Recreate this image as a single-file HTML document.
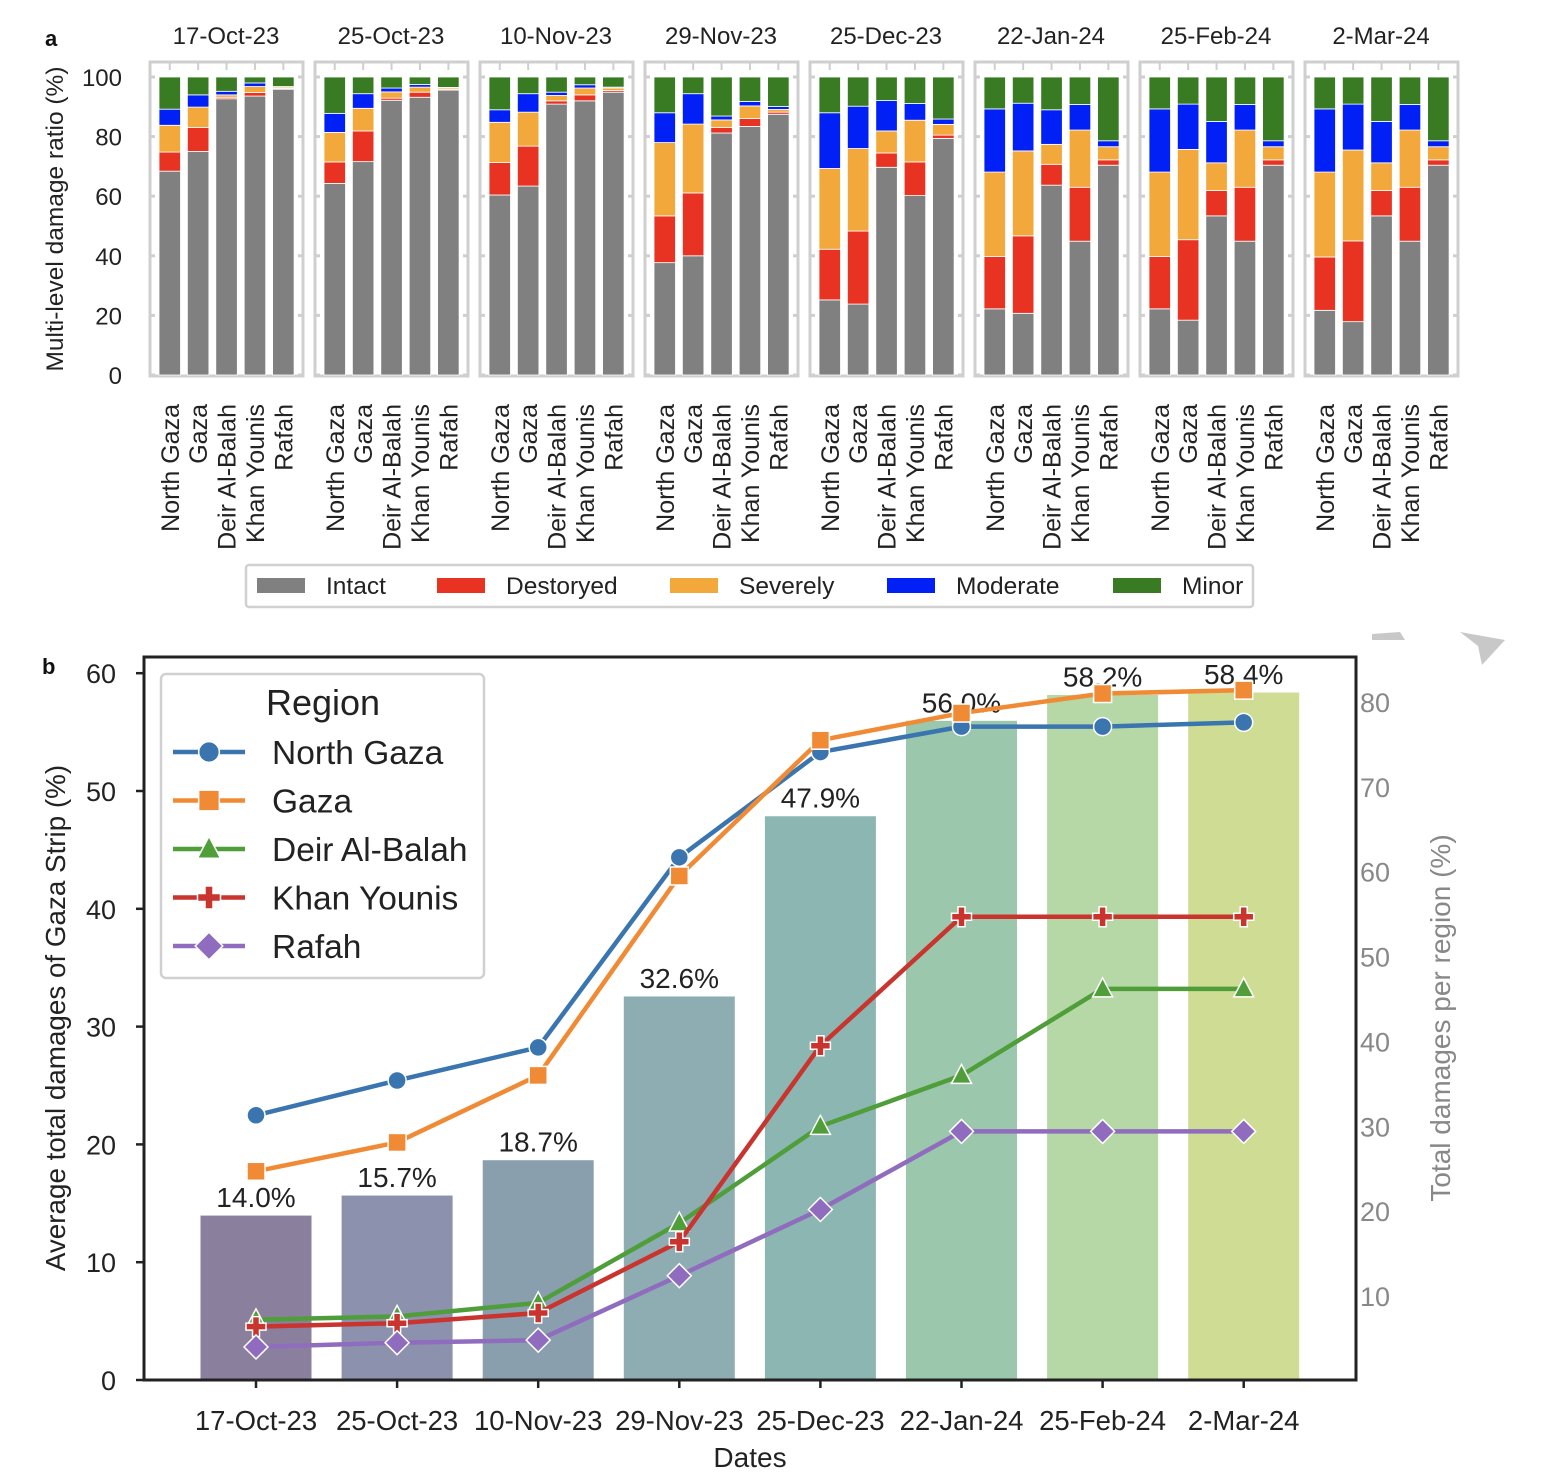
<!DOCTYPE html>
<html><head><meta charset="utf-8"><style>
body{margin:0;background:#fff;}
svg{display:block;font-family:"Liberation Sans",Arial,sans-serif;}
</style></head><body>
<svg id="c" width="1566" height="1476" viewBox="0 0 1566 1476"></svg>
<script>
// ---------- Panel a data ----------
const dates = ["17-Oct-23","25-Oct-23","10-Nov-23","29-Nov-23","25-Dec-23","22-Jan-24","25-Feb-24","2-Mar-24"];
const regions = ["North Gaza","Gaza","Deir Al-Balah","Khan Younis","Rafah"];
const intact = [
 [68.4,75.0,92.7,93.6,95.9],[64.3,71.6,92.2,93.2,95.6],[60.4,63.4,90.9,92.0,94.9],[37.7,40.0,81.2,83.4,87.5],
 [25.2,23.8,69.7,60.2,79.4],[22.2,20.7,63.7,44.9,70.4],[22.2,18.4,53.4,44.9,70.4],[21.7,17.9,53.4,44.9,70.4]];
const destroyed = [
 [6.4,8.1,0.5,1.2,0.3],[7.2,10.3,0.7,1.7,0.2],[10.9,13.4,1.1,2.0,0.6],[15.7,21.1,1.9,2.7,0.7],
 [17.0,24.5,4.8,11.3,1.1],[17.6,26.0,7.0,18.1,1.8],[17.6,27.0,8.5,18.1,1.8],[17.9,27.1,8.5,18.1,1.8]];
const severely = [
 [9.0,6.8,0.8,2.0,0.4],[9.9,7.6,2.1,1.7,0.5],[13.5,11.4,1.8,2.3,0.8],[24.6,23.1,2.5,4.2,0.9],
 [27.1,27.7,7.4,14.0,3.6],[28.3,28.5,6.7,19.2,4.4],[28.3,30.3,9.3,19.2,4.4],[28.5,30.5,9.3,19.2,4.4]];
const moderate = [
 [5.4,4.1,1.2,1.2,0.2],[6.4,4.9,1.3,0.9,0.2],[4.2,6.2,1.1,1.1,0.3],[10.0,10.2,1.3,1.5,1.0],
 [18.7,14.2,10.2,5.6,1.8],[21.2,16.0,11.6,8.6,2.0],[21.2,15.2,13.9,8.6,2.0],[21.2,15.4,13.9,8.6,2.0]];
const minor = [
 [10.8,6.0,4.8,2.0,3.2],[12.2,5.6,3.7,2.5,3.5],[11.0,5.6,5.1,2.6,3.4],[12.0,5.6,13.1,8.2,9.9],
 [12.0,9.8,7.9,8.9,14.1],[10.7,8.8,11.0,9.2,21.4],[10.7,9.1,14.9,9.2,21.4],[10.7,9.1,14.9,9.2,21.4]];
const aTicks = [0,20,40,60,80,100];
const catNames = ["Intact","Destoryed","Severely","Moderate","Minor"];
// ---------- Panel b data ----------
const totalPct = [14.0,15.7,18.7,32.6,47.9,56.0,58.2,58.4];
const ngLine = [31.3,35.4,39.3,61.7,74.1,77.1,77.1,77.6];
const gazaLine = [24.7,28.1,36.0,59.5,75.5,78.7,81.0,81.4];
const deirLine = [7.2,7.6,9.2,18.6,30.0,36.0,46.2,46.2];
const khanLine = [6.4,6.8,8.0,16.4,39.5,54.7,54.7,54.7];
const rafahLine = [4.0,4.5,4.8,12.4,20.2,29.4,29.4,29.4];
const leftTicks = [0,10,20,30,40,50,60];
const rightTicks = [10,20,30,40,50,60,70,80];

const NS="http://www.w3.org/2000/svg";
const svg=document.getElementById('c');
function mk(tag,attrs,parent){const e=document.createElementNS(NS,tag);for(const k in attrs)e.setAttribute(k,attrs[k]);(parent||svg).appendChild(e);return e;}
function txt(s,attrs,parent){const e=mk('text',attrs,parent);e.textContent=s;return e;}

// ----- panel a -----
const catColors=["#808080","#e83323","#f2a83b","#0020f5","#387b22"];
const ya=v=>375-v*2.98;
const series=[intact,destroyed,severely,moderate,minor];
let t=txt('a',{x:45,y:46,'font-size':22,'font-weight':'bold',fill:'#111'});


t=txt('Multi-level damage ratio (%)',{x:0,y:0,'font-size':24.5,fill:'#222','text-anchor':'middle',transform:'translate(63,219) rotate(-90)'});


aTicks.forEach(v=>{const e=txt(String(v),{x:122,y:ya(v)+9,'font-size':24,fill:'#222','text-anchor':'end'});

});
dates.forEach((d,p)=>{
  const x0=150+p*165;
  const g=mk('g',{});
  
  
  const tt=txt(d,{x:x0+76,y:44,'font-size':24,fill:'#222','text-anchor':'middle'},g);
  
  
  const fr=mk('rect',{x:x0,y:62,width:153,height:314,fill:'#fff',stroke:'#cfcfcf','stroke-width':3},g);
  
  
  aTicks.forEach(v=>{mk('line',{x1:x0,x2:x0+5,y1:ya(v),y2:ya(v),stroke:'#cfcfcf','stroke-width':3},g);mk('line',{x1:x0+148,x2:x0+153,y1:ya(v),y2:ya(v),stroke:'#cfcfcf','stroke-width':3},g);});
  regions.forEach((r,i)=>{
    const bx=x0+9+i*28.4;
    const cx=bx+10.75;
    mk('line',{x1:cx,x2:cx,y1:62,y2:70,stroke:'#cfcfcf','stroke-width':2},g);
    let base=0;
    series.forEach((s,k)=>{
      const v=s[p][i];
      const rc=mk('rect',{x:bx,y:ya(base+v),width:21.5,height:Math.max(0,v*2.98),fill:catColors[k],stroke:'#fff','stroke-width':0.8},g);
      
      
      base+=v;
    });
    const lb=txt(r,{x:0,y:0,'font-size':25,fill:'#222','text-anchor':'end',transform:`translate(${cx+9},404) rotate(-90)`},g);
    
    
  });
});
// legend a
const lgA=mk('g',{});


mk('rect',{x:246,y:565,width:1007,height:42,rx:3,fill:'#fff',stroke:'#d0d0d0','stroke-width':2.5},lgA);
const lgx=[257,437,670,887,1113];
catNames.forEach((n,k)=>{
  const e=mk('g',{},lgA);
  
  
  mk('rect',{x:lgx[k],y:578,width:48,height:15,fill:catColors[k]},e);
  txt(n,{x:lgx[k]+69,y:594,'font-size':24.5,fill:'#222'},e);
});

// ----- panel b -----
const yl=v=>1380-v*11.78;
const yr=v=>1380.9-v*8.486;
const xb=i=>256+i*141.1;
t=txt('b',{x:42,y:674,'font-size':22,'font-weight':'bold',fill:'#111'});


const barCols=["#8b7f9e","#8c92ae","#8a9fae","#8dadb2","#8bb6b1","#9bc7ad","#b5d8a6","#cfdc93"];
totalPct.forEach((v,i)=>{
  const r=mk('rect',{x:xb(i)-56,y:yl(v),width:112,height:v*11.78,fill:barCols[i],stroke:'#fff','stroke-width':1});
  
  
  const l=txt(v.toFixed(1)+'%',{x:xb(i),y:yl(v)-8,'font-size':28,fill:'#222','text-anchor':'middle'});
  
  
});
const lines=[["North Gaza",ngLine,"#3a75b0","circle"],["Gaza",gazaLine,"#f08a34","square"],["Deir Al-Balah",deirLine,"#4f9e3a","tri"],["Khan Younis",khanLine,"#c9342e","plus"],["Rafah",rafahLine,"#8f6cbd","diamond"]];
function marker(type,x,y,col,parent,s){
  s=s||1;
  if(type==='circle')return mk('circle',{cx:x,cy:y,r:9*s,fill:col,stroke:'#fff','stroke-width':1.5},parent);
  if(type==='square')return mk('rect',{x:x-9*s,y:y-9*s,width:18*s,height:18*s,fill:col,stroke:'#fff','stroke-width':1.5},parent);
  if(type==='tri')return mk('polygon',{points:`${x},${y-11*s} ${x+10*s},${y+8*s} ${x-10*s},${y+8*s}`,fill:col,stroke:'#fff','stroke-width':1.5},parent);
  if(type==='plus')return mk('path',{d:`M${x-3.5*s},${y-10*s}h${7*s}v${6.5*s}h${6.5*s}v${7*s}h${-6.5*s}v${6.5*s}h${-7*s}v${-6.5*s}h${-6.5*s}v${-7*s}h${6.5*s}z`,fill:col,stroke:'#fff','stroke-width':1.5},parent);
  return mk('polygon',{points:`${x},${y-12*s} ${x+12*s},${y} ${x},${y+12*s} ${x-12*s},${y}`,fill:col,stroke:'#fff','stroke-width':1.5},parent);
}
lines.forEach(([n,vals,col,m])=>{
  const g=mk('g',{});
  
  
  mk('polyline',{points:vals.map((v,i)=>xb(i)+','+yr(v)).join(' '),fill:'none',stroke:col,'stroke-width':4.5,'stroke-linejoin':'round'},g);
  vals.forEach((v,i)=>{const p=marker(m,xb(i),yr(v),col,g);
    
    });
});
// frame
const fb=mk('rect',{x:144,y:657,width:1212,height:723,fill:'none',stroke:'#222','stroke-width':3});


leftTicks.forEach(v=>{mk('line',{x1:136,x2:144,y1:yl(v),y2:yl(v),stroke:'#222','stroke-width':2.5});
  const e=txt(String(v),{x:116,y:yl(v)+10,'font-size':27,fill:'#222','text-anchor':'end'});
  
  });
rightTicks.forEach(v=>{
  const e=txt(String(v),{x:1360,y:yr(v)+10,'font-size':27,fill:'#888'});
  
  });
dates.forEach((d,i)=>{mk('line',{x1:xb(i),x2:xb(i),y1:1380,y2:1388,stroke:'#222','stroke-width':2.5});
  const e=txt(d,{x:xb(i),y:1430,'font-size':27.5,fill:'#222','text-anchor':'middle'});
  
  });
t=txt('Dates',{x:750,y:1467,'font-size':28,fill:'#222','text-anchor':'middle'});


t=txt('Average total damages of Gaza Strip (%)',{x:0,y:0,'font-size':27.8,fill:'#222','text-anchor':'middle',transform:'translate(65,1018) rotate(-90)'});


t=txt('Total damages per region (%)',{x:0,y:0,'font-size':28,fill:'#888','text-anchor':'middle',transform:'translate(1450,1018) rotate(-90)'});


// legend b
const lgB=mk('g',{});


mk('rect',{x:161,y:674,width:323,height:304,rx:5,fill:'#fff',stroke:'#d0d0d0','stroke-width':2.5},lgB);
txt('Region',{x:323,y:715,'font-size':36,fill:'#222','text-anchor':'middle'},lgB);
lines.forEach(([n,vals,col,m],k)=>{
  const y=752+k*48.5;
  const e=mk('g',{},lgB);
  
  
  mk('line',{x1:173,x2:245,y1:y,y2:y,stroke:col,'stroke-width':4.5},e);
  marker(m,209,y,col,e,1.15);
  txt(n,{x:272,y:y+12,'font-size':33.5,fill:'#222'},e);
});
// corner artifact
const art=mk('path',{d:'M1372,634 L1400,632 L1405,640 L1372,640 Z M1460,632 L1505,640 L1482,665 L1478,646 Z',fill:'#c8c8c8'});


</script>
</body></html>
